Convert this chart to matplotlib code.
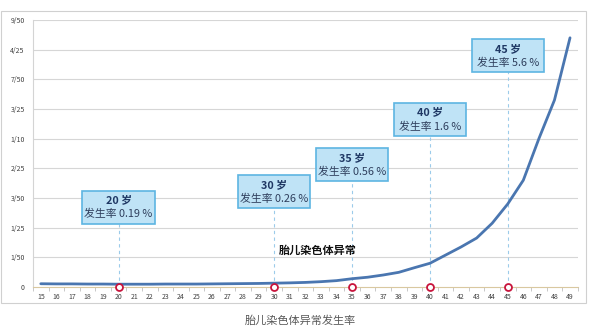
import matplotlib
matplotlib.use("Agg")
import matplotlib.pyplot as plt
from matplotlib.patches import Rectangle
from matplotlib.ticker import FixedLocator, FixedFormatter

plt.rcParams['font.family'] = ['Noto Sans CJK SC', 'DejaVu Sans']

# 孕妇年龄与胎儿染色体异常发生率
ages = list(range(15, 50))
rates = [0.0022, 0.0021, 0.0021, 0.0020, 0.0020, 0.0019, 0.0019, 0.0019, 0.0020,
         0.0020, 0.0020, 0.0021, 0.0022, 0.0023, 0.0024, 0.0026,
         0.0028, 0.0031, 0.0036, 0.0043, 0.0056,
         0.0066, 0.0081, 0.0099, 0.0130, 0.0160,
         0.0215, 0.0270, 0.0330, 0.0430, 0.0560,
         0.0720, 0.1000, 0.1260, 0.1680]

# 标注的年龄点
mark_ages = [20, 30, 35, 40, 45]
mark_text = ["0.19 %", "0.26 %", "0.56 %", "1.6 %", "5.6 %"]

ytick_vals = [0, 0.02, 0.04, 0.06, 0.08, 0.10, 0.12, 0.14, 0.16, 0.18]
ytick_labels = ["0", "1/50", "1/25", "3/50", "2/25", "1/10", "3/25", "7/50", "4/25", "9/50"]

series_name = "胎儿染色体异常"
title = "胎儿染色体异常发生率"

# 标注框中心高度（版式用）
box_y = [0.0539, 0.0643, 0.0825, 0.1131, 0.1562]
box_w = 4.64
box_h = 0.0222

fig = plt.figure(figsize=(6, 3.36), dpi=100)
ax = fig.add_axes([0.055, 0.1458, 0.908, 0.7947])

# 外框
fig.patches.append(Rectangle((0.002, 0.098), 0.975, 0.868, transform=fig.transFigure,
                             fill=False, edgecolor='#d0d0d0', linewidth=0.8))

for v in ytick_vals[1:]:
    ax.axhline(v, color='#d6d6d6', linewidth=0.8, zorder=0)

ax.plot(ages, rates, color='#4a76b0', linewidth=2, zorder=3, solid_capstyle='round')

for a, t, by in zip(mark_ages, mark_text, box_y):
    ax.plot([a, a], [0, by - box_h / 2], color='#9ccbea', linewidth=0.8,
            linestyle=(0, (3, 3)), zorder=1)
    ax.add_patch(Rectangle((a - box_w / 2, by - box_h / 2), box_w, box_h,
                           facecolor='#bfe3f6', edgecolor='#5db5e2', linewidth=1.2, zorder=4))
    ax.text(a, by + 0.0045, f"{a} 岁", ha='center', va='center', fontsize=7.8,
            fontweight='bold', color='#1f3864', zorder=5)
    ax.text(a, by - 0.0048, f"发生率 {t}", ha='center', va='center', fontsize=7.8,
            color='#2e3e5c', zorder=5)
    ax.plot(a, 0, marker='o', markersize=5, markerfacecolor='white',
            markeredgecolor='#c8143c', markeredgewidth=1.3, zorder=6, clip_on=False)

ax.text(30.3, 0.025, series_name, ha='left', va='center', fontsize=8,
        fontweight='bold', color='#111111')

ax.set_xlim(14.5, 49.5)
ax.set_ylim(0, 0.18)
ax.set_xticks(ages)
ax.set_xticklabels([str(a) for a in ages], fontsize=5, color='#404040')
ax.xaxis.set_minor_locator(FixedLocator([a + 0.5 for a in range(14, 50)]))
ax.tick_params(axis='x', which='major', length=0, pad=4)
ax.tick_params(axis='x', which='minor', length=3, color='#bfbfbf', width=0.6)
ax.yaxis.set_major_locator(FixedLocator(ytick_vals))
ax.yaxis.set_major_formatter(FixedFormatter(ytick_labels))
ax.tick_params(axis='y', length=0, labelsize=5, labelcolor='#404040', pad=6)

for s in ['top', 'right']:
    ax.spines[s].set_visible(False)
ax.spines['left'].set_color('#d4d4d4')
ax.spines['left'].set_linewidth(0.8)
ax.spines['bottom'].set_color('#d9c8a0')
ax.spines['bottom'].set_linewidth(0.8)

fig.text(0.5, 0.045, title, ha='center', va='center', fontsize=8, color='#595959')

fig.savefig("out.png", dpi=100)
